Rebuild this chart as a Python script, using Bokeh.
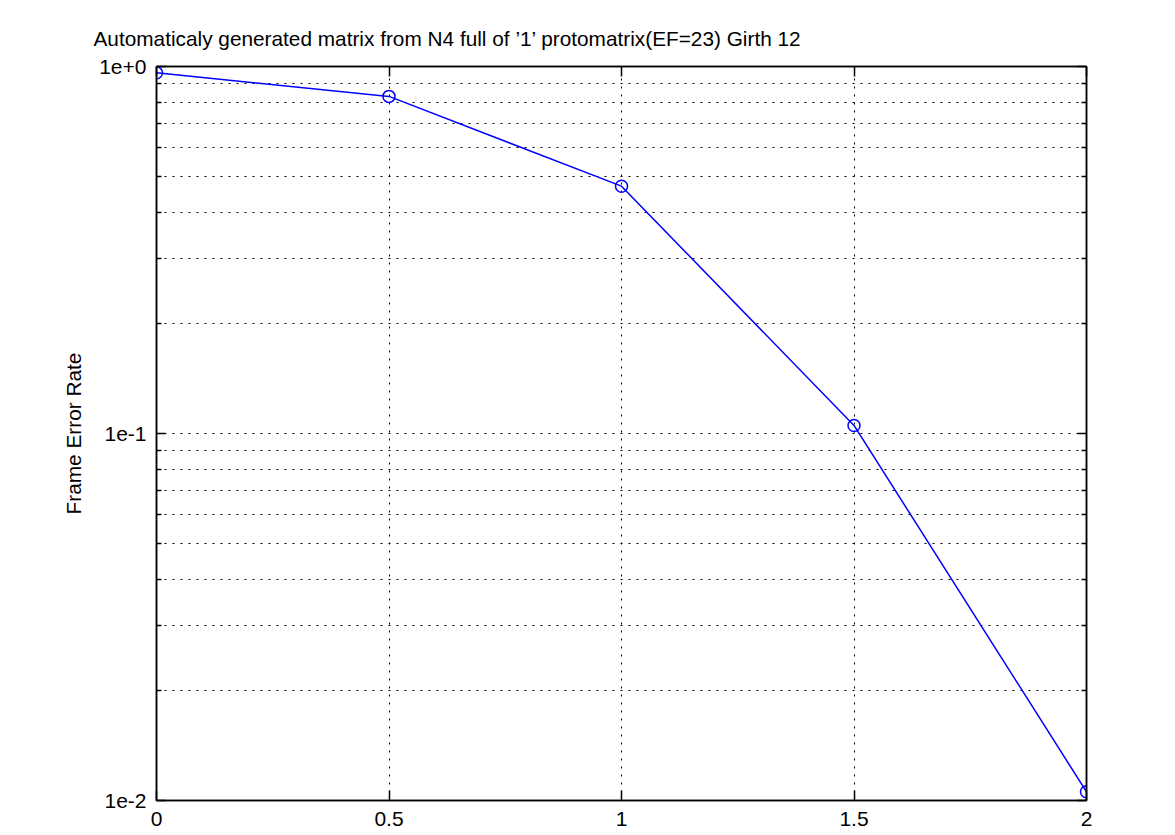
from bokeh.plotting import figure
from bokeh.models import FixedTicker, LinearAxis, LogAxis, Title, Range1d
from bokeh.embed import file_html
from bokeh.resources import INLINE

# ---- data ----
snr = [0.0, 0.5, 1.0, 1.5, 2.0]
fer = [0.961, 0.829, 0.472, 0.1052, 0.01056]
x_ticks = [0.0, 0.5, 1.0, 1.5, 2.0]
x_tick_labels = ["0", "0.5", "1", "1.5", "2"]
y_ticks = [0.01, 0.1, 1.0]
y_tick_labels = ["1e-2", "1e-1", "1e+0"]
y_minor_ticks = [0.02, 0.03, 0.04, 0.05, 0.06, 0.07, 0.08, 0.09,
                 0.2, 0.3, 0.4, 0.5, 0.6, 0.7, 0.8, 0.9]
title_text = "Automaticaly generated matrix from N4 full of \u20191\u2019 protomatrix(EF=23) Girth 12"
y_label = "Frame Error Rate"

FONT = "Liberation Sans"
FS = "21px"

p = figure(width=1160, height=835, y_axis_type="log",
           x_range=Range1d(0, 2), y_range=Range1d(0.01, 1),
           output_backend="svg", toolbar_location=None,
           min_border_left=156, min_border_right=74,
           min_border_top=66, min_border_bottom=35,
           background_fill_color="white", border_fill_color="white")

p.title = Title(text=title_text, align="left", offset=-63, standoff=33,
                text_font=FONT, text_font_size="20.8px", text_font_style="normal",
                text_color="black")

p.outline_line_color = "black"
p.outline_line_width = 1.5

# bottom axis
xa = p.xaxis[0]
xa.ticker = FixedTicker(ticks=x_ticks)
xa.major_label_overrides = dict(zip(x_ticks, x_tick_labels))
xa.major_tick_in = 10
xa.major_tick_out = 0
xa.major_label_standoff = 11
xa.major_label_text_font = FONT
xa.major_label_text_font_size = FS
xa.major_label_text_color = "black"
xa.axis_line_color = "black"
xa.axis_line_width = 1.5
xa.major_tick_line_color = "black"
xa.major_tick_line_width = 1.5

# left axis
ya = p.yaxis[0]
ya.ticker = FixedTicker(ticks=y_ticks, minor_ticks=y_minor_ticks)
ya.major_label_overrides = dict(zip(y_ticks, y_tick_labels))
ya.major_tick_in = 9
ya.major_tick_out = 0
ya.minor_tick_in = 5
ya.minor_tick_out = 0
ya.major_label_standoff = 10
ya.major_label_text_font = FONT
ya.major_label_text_font_size = FS
ya.major_label_text_color = "black"
ya.axis_line_color = "black"
ya.axis_line_width = 1.5
ya.major_tick_line_color = "black"
ya.major_tick_line_width = 1.5
ya.minor_tick_line_color = "black"
ya.minor_tick_line_width = 1.5
ya.axis_label = y_label
ya.axis_label_text_font = FONT
ya.axis_label_text_font_size = "20.8px"
ya.axis_label_text_font_style = "normal"
ya.axis_label_text_color = "black"
ya.axis_label_standoff = 11

# mirrored axes (ticks only, labels not painted)
top = LinearAxis(ticker=FixedTicker(ticks=x_ticks), major_tick_in=10, major_tick_out=0,
                 major_label_text_color=None, major_label_standoff=0,
                 major_label_text_font_size="10px",
                 axis_line_color="black", axis_line_width=1.5,
                 major_tick_line_color="black", major_tick_line_width=1.5)
p.add_layout(top, "above")
right = LogAxis(ticker=FixedTicker(ticks=y_ticks, minor_ticks=y_minor_ticks),
                major_tick_in=9, major_tick_out=0, minor_tick_in=5, minor_tick_out=0,
                major_label_text_color=None, major_label_standoff=0,
                major_label_text_font_size="10px",
                axis_line_color="black", axis_line_width=1.5,
                major_tick_line_color="black", major_tick_line_width=1.5,
                minor_tick_line_color="black", minor_tick_line_width=1.5)
p.add_layout(right, "right")

# grids
p.xgrid.grid_line_color = "black"
p.xgrid.grid_line_dash = "2 6"
p.xgrid.grid_line_width = 1
p.ygrid.grid_line_color = "black"
p.ygrid.grid_line_dash = "2 6"
p.ygrid.grid_line_width = 1
p.ygrid.minor_grid_line_color = "black"
p.ygrid.minor_grid_line_dash = "2 6"
p.ygrid.minor_grid_line_width = 1

# data
p.line(snr, fer, line_color="blue", line_width=1.5)
p.scatter(snr, fer, marker="circle", size=12, fill_color=None,
          line_color="blue", line_width=1.5)

open("out.html", "w").write(file_html(p, INLINE))
